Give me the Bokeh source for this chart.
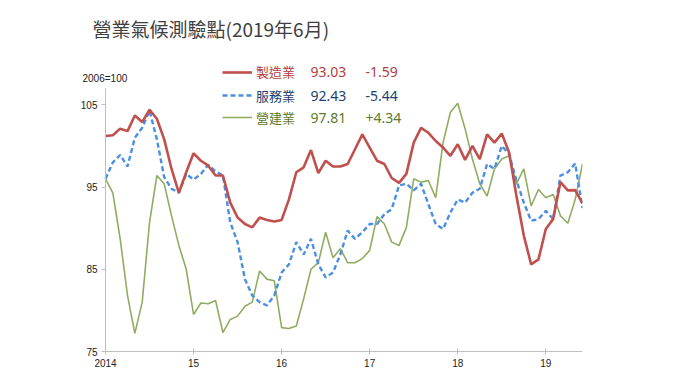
from bokeh.plotting import figure
from bokeh.models import Label, Legend, LegendItem, FixedTicker, Range1d, ColumnDataSource
from bokeh.embed import file_html
from bokeh.resources import INLINE

# Monthly data, Jan 2014 .. Jun 2019 (2006=100)
start_year = 2014
manufacturing = [101.2, 101.3, 102.1, 101.8, 103.7, 102.9, 104.4, 103.3, 100.8, 97.2, 94.3, 96.8,
                 99.1, 98.2, 97.6, 96.4, 96.4, 93.1, 91.3, 90.5, 90.1, 91.3, 91.0, 90.8,
                 91.0, 93.5, 96.8, 97.4, 99.5, 96.7, 98.2, 97.5, 97.5, 97.8, 99.6, 101.4,
                 99.8, 98.2, 97.8, 96.1, 95.5, 96.6, 100.4, 102.2, 101.6, 100.6, 99.8, 98.8,
                 100.2, 98.3, 100.0, 98.4, 101.4, 100.4, 101.5, 99.2, 93.9, 89.1, 85.6, 86.2,
                 89.9, 91.1, 95.6, 94.6, 94.62, 93.03]
services = [96.0, 98.0, 98.9, 97.5, 101.0, 102.2, 104.3, 100.8, 96.2, 94.8, 94.3, 96.6,
            95.9, 96.6, 97.7, 96.9, 96.4, 90.7, 88.3, 83.8, 81.8, 81.0, 80.6, 81.8,
            84.6, 85.6, 88.3, 86.8, 88.7, 85.6, 84.0, 84.6, 86.8, 89.7, 88.7, 89.5,
            90.5, 90.5, 91.7, 92.3, 95.2, 95.4, 94.6, 95.4, 92.9, 90.5, 89.9, 91.9,
            93.5, 93.1, 94.3, 94.8, 97.8, 97.2, 100.0, 99.0, 95.8, 93.1, 90.9, 91.1,
            92.1, 91.1, 96.4, 96.8, 97.87, 92.43]
construction = [96.0, 94.3, 88.7, 81.8, 77.2, 81.0, 90.7, 96.4, 95.4, 91.5, 87.9, 85.0,
                79.5, 80.9, 80.8, 81.2, 77.3, 78.9, 79.3, 80.5, 81.0, 84.8, 83.8, 83.6,
                77.9, 77.8, 78.1, 81.4, 85.0, 85.8, 89.5, 86.4, 87.5, 85.8, 85.8, 86.3,
                87.3, 91.4, 90.5, 88.3, 87.9, 90.1, 96.0, 95.6, 95.8, 93.7, 100.4, 104.1,
                105.2, 102.1, 98.4, 95.4, 93.9, 97.2, 98.4, 98.8, 95.4, 97.2, 92.7, 94.7,
                93.7, 94.1, 91.5, 90.6, 93.47, 97.81]

series_names = ["製造業", "服務業", "營建業"]
latest_values = ["93.03", "92.43", "97.81"]
latest_changes = ["-1.59", "-5.44", "+4.34"]
year_ticks = [2014, 2015, 2016, 2017, 2018, 2019]
year_labels = ["2014", "15", "16", "17", "18", "19"]
y_ticks = [75, 85, 95, 105]
y_axis_min, y_axis_max = 75, 107
title_text = "營業氣候測驗點(2019年6月)"
base_text = "2006=100"

months = [start_year + i / 12 for i in range(len(manufacturing))]
src = ColumnDataSource(dict(x=months, m=manufacturing, s=services, c=construction))

line_colors = ["#C0504D", "#4A8FE0", "#90AC62"]
text_colors = ["#B2403D", "#203F70", "#5C7A2C"]

# frame: page x 70..582, page y 5..378 ; axes drawn at fixed data locations
px_per_unit = 8.223
px_per_year = 88.06
frame_top_value = y_axis_min + (351 - 5) / px_per_unit
frame_bottom_value = y_axis_min - (378 - 351) / px_per_unit
frame_left_value = months[0] - (105 - 70) / px_per_year

p = figure(width=680, height=383, output_backend="svg", toolbar_location=None,
           min_border_left=70, min_border_right=98, min_border_top=5, min_border_bottom=5,
           x_range=Range1d(frame_left_value, months[-1]),
           y_range=Range1d(frame_bottom_value, frame_top_value))
p.outline_line_color = None
p.grid.visible = False
p.background_fill_color = "white"

r_c = p.line("x", "c", source=src, color=line_colors[2], line_width=1.6)
r_s = p.line("x", "s", source=src, color=line_colors[1], line_width=2.4, line_dash="5 3")
r_m = p.line("x", "m", source=src, color=line_colors[0], line_width=2.6)

# axes
p.xaxis.ticker = FixedTicker(ticks=year_ticks)
p.xaxis.major_label_overrides = {t: l for t, l in zip(year_ticks, year_labels)}
p.xaxis.bounds = (months[0], months[-1])
p.xaxis.fixed_location = y_axis_min
p.yaxis.ticker = FixedTicker(ticks=y_ticks)
p.yaxis.bounds = (y_axis_min, y_axis_max)
p.yaxis.fixed_location = months[0]
for ax in (p.xaxis[0], p.yaxis[0]):
    ax.axis_line_color = "#BFBFBF"
    ax.major_tick_line_color = "#BFBFBF"
    ax.minor_tick_line_color = None
    ax.major_label_text_font = "Liberation Sans"
    ax.major_label_text_font_size = "10px"
    ax.major_label_text_color = "#222222"
p.xaxis.major_tick_in = 3
p.xaxis.major_tick_out = 3
p.xaxis.major_label_standoff = 4
p.yaxis.major_tick_in = 0
p.yaxis.major_tick_out = 4
p.yaxis.major_label_standoff = 4

# title and base note (screen units relative to frame bottom-left: page x 70, page y 378)
oy = 378
p.add_layout(Label(x=22, y=oy - 28, x_units="screen", y_units="screen", text=title_text,
                   text_font="Noto Sans CJK TC", text_font_size="19px", text_color="#404040",
                   text_baseline="middle", text_align="left"))
p.add_layout(Label(x=12, y=oy - 78, x_units="screen", y_units="screen", text=base_text,
                   text_font="Liberation Sans", text_font_size="10px", text_color="#222222",
                   text_baseline="middle", text_align="left"))

# legend rows (page y of row centres)
rows_page_y = [71.5, 95, 117]
renderers = [r_m, r_s, r_c]
for i in range(3):
    ry = oy - rows_page_y[i]
    lg = Legend(items=[LegendItem(label=series_names[i], renderers=[renderers[i]])],
                location=(152, ry - 10), orientation="vertical",
                glyph_width=30, glyph_height=20, label_height=20, label_standoff=4,
                padding=0, margin=0, spacing=0,
                border_line_color=None, background_fill_alpha=0,
                label_text_font="Noto Sans CJK TC", label_text_font_size="13px",
                label_text_color=text_colors[i], label_text_baseline="middle")
    p.add_layout(lg)
    p.add_layout(Label(x=240, y=ry, x_units="screen", y_units="screen",
                       text=latest_values[i], text_font="Noto Sans", text_font_size="14px",
                       text_color=text_colors[i], text_baseline="middle"))
    p.add_layout(Label(x=295, y=ry, x_units="screen", y_units="screen",
                       text=latest_changes[i], text_font="Noto Sans", text_font_size="14px",
                       text_color=text_colors[i], text_baseline="middle"))

open("out.html", "w").write(file_html(p, INLINE))
